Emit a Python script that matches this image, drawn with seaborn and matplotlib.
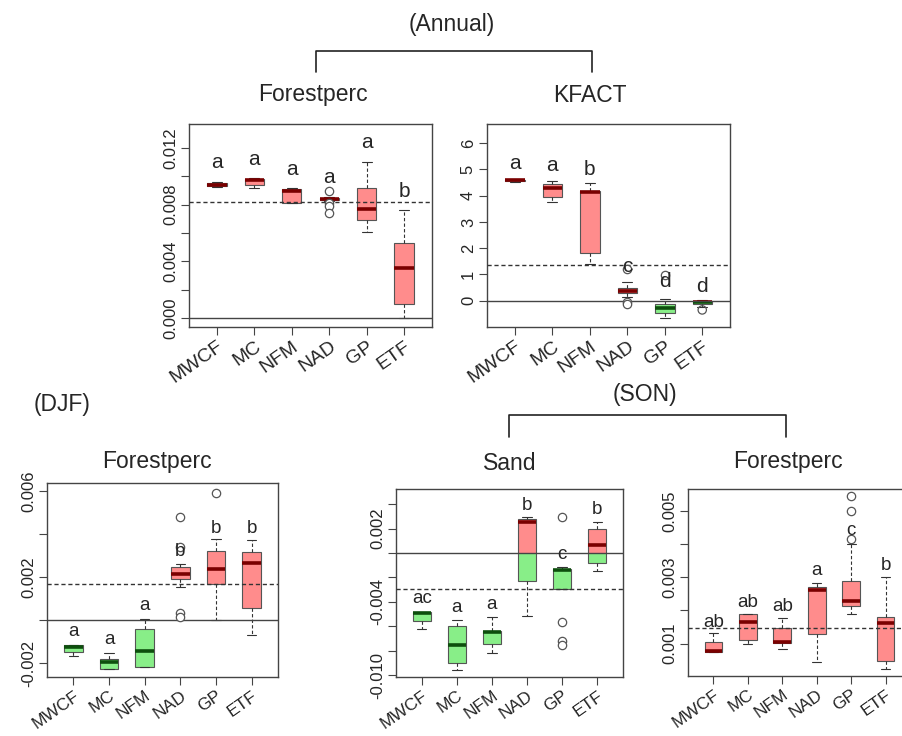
import numpy as np
import pandas as pd
import seaborn as sns
import matplotlib.pyplot as plt
from matplotlib.patches import Rectangle
from matplotlib.lines import Line2D

groups = ['MWCF', 'MC', 'NFM', 'NAD', 'GP', 'ETF']

# box summaries per group: [low whisker, q1, median, q3, high whisker]
# (Annual) Forestperc
ann_forest_box = [[0.00922, 0.00932, 0.00940, 0.00950, 0.00960],
                  [0.00915, 0.00940, 0.00972, 0.00985, 0.00990],
                  [0.00810, 0.00812, 0.00900, 0.00910, 0.00920],
                  [0.00828, 0.00832, 0.00840, 0.00848, 0.00852],
                  [0.00610, 0.00690, 0.00770, 0.00920, 0.01100],
                  [0.00000, 0.00100, 0.00355, 0.00530, 0.00760]]
ann_forest_out = [[], [], [], [0.0090, 0.0081, 0.0079, 0.0074], [], []]
ann_forest_letters = ['a', 'a', 'a', 'a', 'a', 'b']
ann_forest_letter_y = [0.0110, 0.0112, 0.0105, 0.0099, 0.0124, 0.0089]
ann_forest_ref = 0.0082

# (Annual) KFACT
ann_kfact_box = [[4.54, 4.56, 4.58, 4.60, 4.62],
                 [3.76, 3.95, 4.28, 4.45, 4.57],
                 [1.39, 1.83, 4.14, 4.16, 4.50],
                 [0.15, 0.28, 0.38, 0.50, 0.73],
                 [-0.67, -0.46, -0.29, -0.14, 0.05],
                 [-0.22, -0.12, -0.06, -0.01, 0.02]]
ann_kfact_out = [[], [], [], [1.20, -0.04, -0.14], [0.98], [-0.35]]
ann_kfact_letters = ['a', 'a', 'b', 'c', 'd', 'd']
ann_kfact_letter_y = [5.24, 5.14, 4.99, 1.30, 0.73, 0.55]
ann_kfact_ref = 1.36

# (DJF) Forestperc
djf_forest_box = [[-0.00166, -0.00146, -0.00122, -0.00115, -0.00115],
                  [-0.00228, -0.00226, -0.00195, -0.00178, -0.00150],
                  [-0.00215, -0.00215, -0.00142, -0.00040, 0.00005],
                  [0.00153, 0.00192, 0.00215, 0.00246, 0.00261],
                  [0.00000, 0.00168, 0.00238, 0.00323, 0.00376],
                  [-0.00068, 0.00056, 0.00264, 0.00317, 0.00373]]
djf_forest_out = [[], [], [], [0.00478, 0.00340, 0.00035, 0.00014], [0.00592], []]
djf_forest_letters = ['a', 'a', 'a', 'b', 'b', 'b']
djf_forest_letter_y = [-0.00053, -0.00091, 0.00071, 0.00318, 0.00427, 0.00427]
djf_forest_ref = 0.0017

# (SON) Sand
son_sand_box = [[-0.00625, -0.00557, -0.00491, -0.00486, -0.00486],
                [-0.00958, -0.00903, -0.00756, -0.00595, -0.00551],
                [-0.00816, -0.00748, -0.00644, -0.00636, -0.00524],
                [-0.00516, -0.00227, 0.00256, 0.00276, 0.00292],
                [-0.00297, -0.00297, -0.00139, -0.00134, -0.00117],
                [-0.00145, -0.00084, 0.00068, 0.00194, 0.00254]]
son_sand_out = [[], [], [], [], [0.00297, -0.00567, -0.00720, -0.00753], []]
son_sand_letters = ['ac', 'a', 'a', 'b', 'c', 'b']
son_sand_letter_y = [-0.00371, -0.00448, -0.00418, 0.00393, -0.00016, 0.00358]
son_sand_ref = -0.00297

# (SON) Forestperc
son_forest_box = [[0.00075, 0.00075, 0.00078, 0.00106, 0.00132],
                  [0.00100, 0.00111, 0.00165, 0.00188, 0.00190],
                  [0.00082, 0.00101, 0.00105, 0.00148, 0.00177],
                  [0.00045, 0.00128, 0.00261, 0.00269, 0.00281],
                  [0.00190, 0.00212, 0.00227, 0.00289, 0.00400],
                  [0.00023, 0.00048, 0.00162, 0.00181, 0.00302]]
son_forest_out = [[], [], [], [], [0.00546, 0.00500, 0.00414], []]
son_forest_letters = ['ab', 'ab', 'ab', 'a', 'c', 'b']
son_forest_letter_y = [0.00163, 0.00224, 0.00211, 0.00319, 0.00440, 0.00334]
son_forest_ref = 0.00148

RED, DARK_RED = '#ff8c8c', '#7a0000'
GREEN, DARK_GREEN = '#88ee88', '#0d4f0d'
EDGE = '#555555'

sns.set_style('white')
plt.rcParams['font.family'] = ['Liberation Sans', 'DejaVu Sans']

W, H = 903, 736
fig = plt.figure(figsize=(W / 100, H / 100), dpi=100)


def px_rect(left, right, top, bottom):
    return [left / W, 1 - bottom / H, (right - left) / W, (bottom - top) / H]


def panel(rect, box, out, letters, letter_y, ref, ylim, yticks, ylabels, size):
    ax = fig.add_axes(rect)
    df = pd.DataFrame({'group': np.repeat(groups, 5), 'value': np.concatenate(box)})
    span = ylim[1] - ylim[0]
    # draw the boxes twice: red part above zero, green part below zero
    for face, mid, y0 in [(RED, DARK_RED, 0), (GREEN, DARK_GREEN, -5 * span)]:
        n_p, n_l = len(ax.patches), len(ax.lines)
        sns.boxplot(data=df, x='group', y='value', order=groups, whis=(0, 100),
                    showfliers=False, width=0.52, color=face, saturation=1,
                    linecolor=EDGE, linewidth=0.8,
                    medianprops=dict(color=mid, linewidth=2.6),
                    whiskerprops=dict(linestyle=(0, (3, 2)), color='#333333'),
                    capprops=dict(color='#333333'), ax=ax)
        clip = Rectangle((-10, y0), 20, 5 * span, transform=ax.transData)
        for art in list(ax.patches)[n_p:] + list(ax.lines)[n_l:]:
            art.set_clip_path(clip)

    odf = pd.DataFrame({'group': [g for g, vals in zip(groups, out) for v in vals],
                        'value': [v for vals in out for v in vals]})
    sns.stripplot(data=odf, x='group', y='value', order=groups, jitter=False,
                  size=6, color='white', edgecolor=EDGE, linewidth=0.9, ax=ax, zorder=4)
    ax.collections[-1].set_facecolor('none')

    ax.axhline(0, color='#444444', lw=1, zorder=3)
    ax.axhline(ref, color='#333333', lw=1, ls=(0, (3, 2)), zorder=3)
    for i, (lab, y) in enumerate(zip(letters, letter_y)):
        ax.text(i, y, lab, ha='center', va='center', fontsize=size, zorder=5)

    ax.set_xlim(-0.74, 5.74)
    ax.set_ylim(*ylim)
    ax.set_xlabel('')
    ax.set_ylabel('')
    ax.set_xticks(range(len(groups)))
    ax.set_xticklabels(groups, rotation=35, ha='right', va='top',
                       rotation_mode='anchor', fontsize=size - 1)
    ax.set_yticks(yticks)
    ax.set_yticklabels(ylabels, rotation=90, va='center', fontsize=12)
    ax.tick_params(length=6, width=0.8, color='#444444', pad=2,
                   left=True, bottom=True)
    for s in ax.spines.values():
        s.set_visible(True)
        s.set_color('#444444')
        s.set_linewidth(1)
    return ax


def lab(vals, shown):
    return [f'{v:.3f}' if f'{v:.3f}' in shown else '' for v in vals]


t1 = [0.0, 0.002, 0.004, 0.006, 0.008, 0.010, 0.012]
panel(px_rect(189, 432, 124, 327), ann_forest_box, ann_forest_out, ann_forest_letters,
      ann_forest_letter_y, ann_forest_ref, (-0.00064, 0.0137),
      t1, lab(t1, ['0.000', '0.004', '0.008', '0.012']), 15)

t2 = [0, 1, 2, 3, 4, 5, 6]
panel(px_rect(487, 730, 124, 327), ann_kfact_box, ann_kfact_out, ann_kfact_letters,
      ann_kfact_letter_y, ann_kfact_ref, (-1.0, 6.73),
      t2, [str(v) for v in t2], 15)

t3 = [-0.002, 0.0, 0.002, 0.004, 0.006]
panel(px_rect(47, 278, 483, 677), djf_forest_box, djf_forest_out, djf_forest_letters,
      djf_forest_letter_y, djf_forest_ref, (-0.00263, 0.00637),
      t3, lab(t3, ['-0.002', '0.002', '0.006']), 13.5)

t4 = [-0.010, -0.008, -0.006, -0.004, -0.002, 0.0, 0.002, 0.004]
panel(px_rect(396, 623, 489, 677), son_sand_box, son_sand_out, son_sand_letters,
      son_sand_letter_y, son_sand_ref, (-0.01015, 0.00524),
      t4, lab(t4, ['-0.010', '-0.004', '0.002']), 13.5)

t5 = [0.001, 0.002, 0.003, 0.004, 0.005]
panel(px_rect(688, 911, 489, 676), son_forest_box, son_forest_out, son_forest_letters,
      son_forest_letter_y, son_forest_ref, (0.00002, 0.00566),
      t5, lab(t5, ['0.001', '0.003', '0.005']), 13.5)


def ftext(x, y, s, size=16.5):
    fig.text(x / W, 1 - y / H, s, ha='center', va='center', fontsize=size)


def bracket(x0, x1, top, bottom):
    xs = [x0 / W, x0 / W, x1 / W, x1 / W]
    ys = [1 - bottom / H, 1 - top / H, 1 - top / H, 1 - bottom / H]
    fig.add_artist(Line2D(xs, ys, color='#222222', lw=1.2))


ftext(452, 25, '(Annual)')
bracket(316, 592, 51, 72)
ftext(313, 95, 'Forestperc')
ftext(590, 95, 'KFACT')
ftext(62, 405, '(DJF)')
ftext(645, 395, '(SON)')
bracket(509, 786, 415, 437)
ftext(157, 462, 'Forestperc')
ftext(510, 463, 'Sand')
ftext(788, 462, 'Forestperc')

fig.savefig('out.png', dpi=100)
